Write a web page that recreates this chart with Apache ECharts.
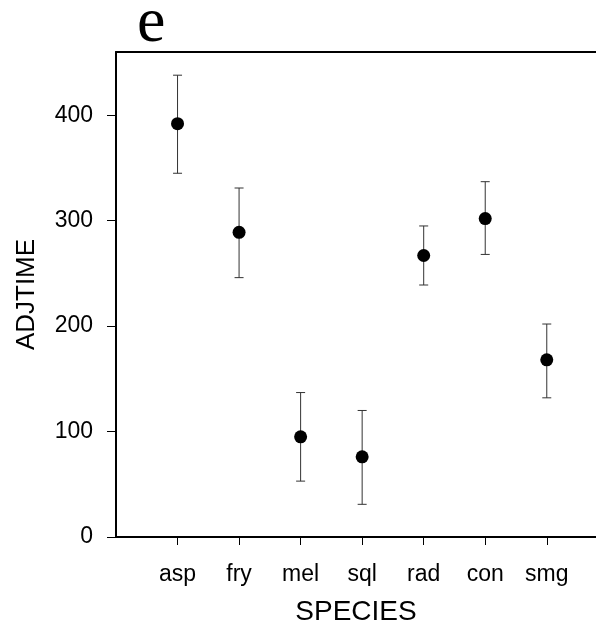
<!DOCTYPE html>
<html>
<head>
<meta charset="utf-8">
<script src="https://cdn.jsdelivr.net/npm/echarts@6/dist/echarts.min.js"></script>
<style>
html,body{margin:0;padding:0;background:#fff;}
#chart{width:596px;height:626px;}
</style>
</head>
<body>
<div id="chart"></div>
<script>
var categories = ['asp', 'fry', 'mel', 'sql', 'rad', 'con', 'smg'];
var means = [392, 289, 95, 76, 267, 302, 168];
var upper = [438, 331, 137, 120, 295, 337, 202];
var lower = [345, 246, 53, 31, 239, 268, 132];
var yTicks = [0, 100, 200, 300, 400];

var positions = categories.map(function (c, i) { return i + 1; });
var pointData = means.map(function (m, i) { return [positions[i], m]; });
var barData = means.map(function (m, i) { return [positions[i], lower[i], upper[i]]; });

var chart = echarts.init(document.getElementById('chart'), null, {renderer: 'canvas'});
chart.setOption({
  animation: false,
  backgroundColor: '#fff',
  grid: {left: 116, top: 52, bottom: 89, right: 0, containLabel: false, outerBoundsMode: 'none'},
  graphic: [{
    type: 'text',
    left: 137, top: -8,
    style: {
      text: 'e',
      font: '64px "Liberation Serif", serif',
      fill: '#000'
    }
  }],
  xAxis: [{
    type: 'value', min: 0, max: 7.8, interval: 1,
    name: 'SPECIES', nameLocation: 'middle', nameGap: 61,
    nameTextStyle: {fontFamily: 'Liberation Sans, Arial', fontSize: 28, color: '#000'},
    axisLine: {show: true, lineStyle: {color: '#000', width: 2}},
    axisTick: {show: true, length: 8, inside: false, customValues: positions, lineStyle: {color: '#000', width: 1}},
    axisLabel: {
      customValues: positions, margin: 26,
      fontFamily: 'Liberation Sans, Arial', fontSize: 23, color: '#000',
      formatter: function (v) { return categories[Math.round(v) - 1] || ''; }
    },
    splitLine: {show: false}
  }, {
    type: 'value', min: 0, max: 7.8, position: 'top',
    axisLine: {show: true, onZero: false, lineStyle: {color: '#000', width: 2}},
    axisTick: {show: false},
    axisLabel: {show: false},
    splitLine: {show: false}
  }],
  yAxis: {
    type: 'value', min: 0, max: 460, interval: 100,
    name: 'ADJTIME', nameLocation: 'middle', nameGap: 76, nameRotate: 90,
    nameTextStyle: {fontFamily: 'Liberation Sans, Arial', fontSize: 26, color: '#000'},
    axisLine: {show: true, lineStyle: {color: '#000', width: 2}},
    axisTick: {show: true, length: 9, inside: false, customValues: yTicks, lineStyle: {color: '#000', width: 1}},
    axisLabel: {
      customValues: yTicks, margin: 23,
      fontFamily: 'Liberation Sans, Arial', fontSize: 23, color: '#000'
    },
    splitLine: {show: false}
  },
  series: [{
    type: 'custom',
    data: barData,
    renderItem: function (params, api) {
      var x = api.value(0);
      var lo = api.coord([x, api.value(1)]);
      var hi = api.coord([x, api.value(2)]);
      var cw = 4.5;
      var st = {stroke: '#333', lineWidth: 1};
      return {
        type: 'group',
        children: [
          {type: 'line', shape: {x1: lo[0], y1: lo[1], x2: hi[0], y2: hi[1]}, style: st},
          {type: 'line', shape: {x1: hi[0] - cw, y1: hi[1], x2: hi[0] + cw, y2: hi[1]}, style: st},
          {type: 'line', shape: {x1: lo[0] - cw, y1: lo[1], x2: lo[0] + cw, y2: lo[1]}, style: st}
        ]
      };
    },
    z: 2
  }, {
    type: 'scatter',
    data: pointData,
    symbol: 'circle',
    symbolSize: 13,
    itemStyle: {color: '#000', opacity: 1},
    z: 3
  }]
});
</script>
</body>
</html>
